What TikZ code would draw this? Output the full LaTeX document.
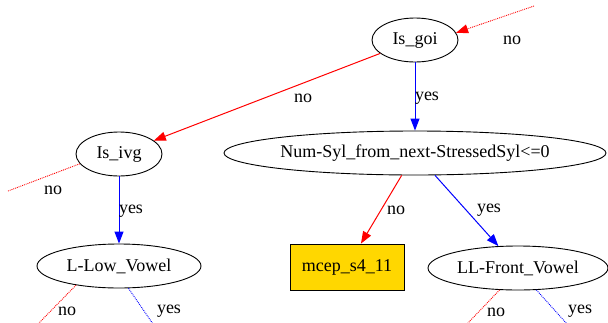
\documentclass[tikz,border=0pt]{standalone}
\usepackage{fontspec}
\setmainfont{Liberation Serif}
\newfontfamily\treefont{Liberation Serif}
\usetikzlibrary{shapes.geometric,arrows.meta}
\definecolor{leafgold}{HTML}{FFD700}
\tikzset{
  every node/.style={font=\treefont\fontsize{18}{21}\selectfont},
  qnode/.style={ellipse, draw=black, line width=0.9pt, inner sep=0pt, minimum height=44pt},
  leaf/.style={rectangle, draw=black, fill=leafgold, line width=0.9pt, minimum width=114pt, minimum height=46pt, inner sep=0pt},
  lbl/.style={inner sep=0pt},
  tip/.style={-{Triangle[length=12pt,width=9pt]}},
  noedge/.style={draw=red, line width=1pt},
  yesedge/.style={draw=blue, line width=1pt},
  openno/.style={draw=red, line width=0.9pt, densely dotted},
  openyes/.style={draw=blue, line width=0.9pt, densely dotted},
}
\begin{document}
\begin{tikzpicture}[x=1pt,y=-1pt]
\useasboundingbox (0,0) rectangle (608,322);

% decision nodes
\node[qnode, minimum width=86pt]  (goi)  at (415,40)  {Is\_goi};
\node[qnode, minimum width=86pt]  (ivg)  at (119,154) {Is\_ivg};
\node[qnode, minimum width=382pt] (nsyl) at (415,153) {Num-Syl\_from\_next-StressedSyl<=0};
\node[qnode, minimum width=164pt] (llow) at (119,266) {L-Low\_Vowel};
\node[qnode, minimum width=180pt] (llf)  at (518,268) {LL-Front\_Vowel};
\node[leaf] (mcep) at (347,267) {mcep\_s4\_11};

% free ends of the open branches
\coordinate (inGoi)  at (534,6);
\coordinate (ivgNo)  at (8,191);
\coordinate (llowNo) at (38,324);
\coordinate (llowYes) at (153,324);
\coordinate (llfNo)  at (467,324);
\coordinate (llfYes) at (567,324);

% incoming branch
\draw[openno, tip] (inGoi) -- (goi.10);
\node[lbl] at (512,40) {no};

% Is_goi
\draw[noedge, tip] (goi) -- (ivg);
\node[lbl] at (303,98) {no};
\draw[yesedge, tip] (goi) -- (nsyl);
\node[lbl] at (427,98) {yes};

% Is_ivg
\draw[openno] (ivg.194) -- (ivgNo);
\node[lbl] at (53,190) {no};
\draw[yesedge, tip] (ivg) -- (llow);
\node[lbl] at (131,211) {yes};

% Num-Syl
\draw[noedge, tip] (nsyl) -- (mcep);
\node[lbl] at (396,210) {no};
\draw[yesedge, tip] (nsyl) -- (llf);
\node[lbl] at (489,210) {yes};

% L-Low_Vowel
\draw[openno] (llow.204) -- (llowNo);
\node[lbl] at (67,311) {no};
\draw[openyes] (llow.293) -- (llowYes);
\node[lbl] at (169,311) {yes};

% LL-Front_Vowel
\draw[openno] (llf.230) -- (llfNo);
\node[lbl] at (496,312) {no};
\draw[openyes] (llf.310) -- (llfYes);
\node[lbl] at (580,311) {yes};
\end{tikzpicture}
\end{document}
